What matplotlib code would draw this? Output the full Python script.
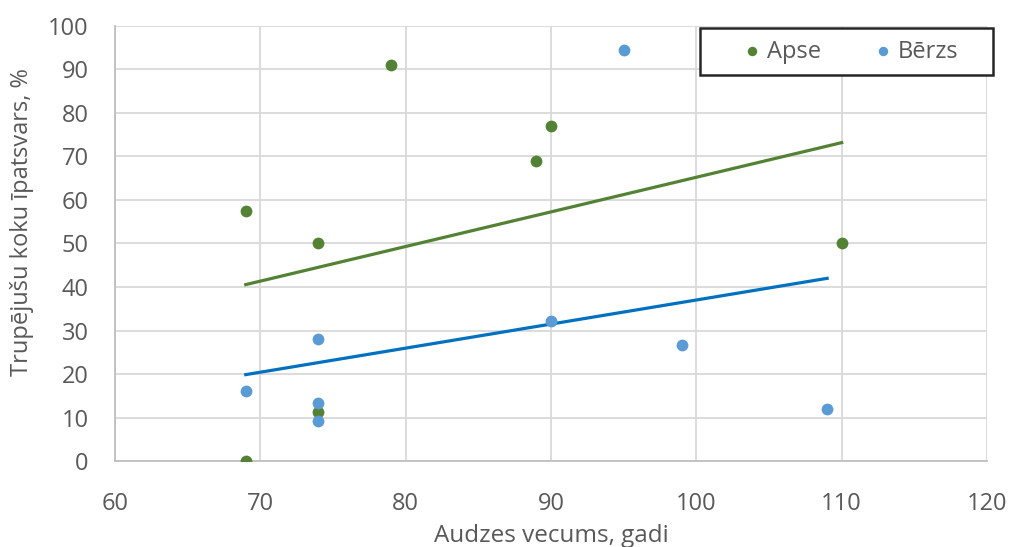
import numpy as np
import matplotlib.pyplot as plt
from matplotlib.patches import Rectangle

# Audzes vecums (gadi) un trupējušu koku īpatsvars (%)
apse_vecums = [69, 69, 74, 74, 79, 89, 90, 110]
apse_ipatsvars = [0, 57.4, 50, 11.2, 91, 69, 77, 50]

berzs_vecums = [69, 74, 74, 74, 90, 95, 99, 109]
berzs_ipatsvars = [16.1, 28, 13.3, 9.2, 32.2, 94.4, 26.7, 12]

x_ticks = [60, 70, 80, 90, 100, 110, 120]
y_ticks = [0, 10, 20, 30, 40, 50, 60, 70, 80, 90, 100]

zals = "#548235"
zils = "#5b9bd5"
zils_tr = "#0070c0"
peleks = "#595959"

plt.rcParams["font.family"] = ["Open Sans", "DejaVu Sans"]

fig = plt.figure(figsize=(10.12, 5.47), dpi=100)
ax = fig.add_axes([0.1136, 0.1572, 0.8617, 0.7953])

# Lineāras tendences (mazāko kvadrātu metode)
for xv, yv, c in [(apse_vecums, apse_ipatsvars, zals),
                  (berzs_vecums, berzs_ipatsvars, zils_tr)]:
    a, b = np.polyfit(xv, yv, 1)
    xl = np.array([min(xv), max(xv)])
    ax.plot(xl, a * xl + b, color=c, lw=2.3, zorder=2)

ax.scatter(apse_vecums, apse_ipatsvars, s=72, color=zals, label="Apse", zorder=3, linewidths=0)
ax.scatter(berzs_vecums, berzs_ipatsvars, s=72, color=zils, label="Bērzs", zorder=3, linewidths=0)

ax.set_xlim(60, 120)
ax.set_ylim(0, 100)
ax.set_xticks(x_ticks)
ax.set_yticks(y_ticks)
ax.grid(True, color="#d9d9d9", lw=1.3)
ax.set_axisbelow(True)
for s in ["top", "right"]:
    ax.spines[s].set_visible(False)
for s in ["left", "bottom"]:
    ax.spines[s].set_color("#bfbfbf")
    ax.spines[s].set_linewidth(1.3)
ax.tick_params(length=0, labelsize=17, labelcolor=peleks)
ax.tick_params(axis="x", pad=22)
ax.tick_params(axis="y", pad=19)

ax.set_xlabel("Audzes vecums, gadi", fontsize=17.5, color=peleks, labelpad=6)
ax.set_ylabel("Trupējušu koku īpatsvars, %", fontsize=17, color=peleks)
ax.yaxis.set_label_coords(-0.093, 0.55)

# Leģendas rāmis
ax.add_patch(Rectangle((0.671, 0.887), 0.336, 0.108, transform=ax.transAxes,
                       facecolor="white", edgecolor="#262626", lw=1.8,
                       clip_on=False, zorder=4))
leg = ax.legend(loc="center", bbox_to_anchor=(0.841, 0.941), ncol=2, fontsize=17,
                frameon=False, handletextpad=0.05, handlelength=1.2,
                columnspacing=2.0, markerscale=0.8, labelcolor=peleks)
leg.set_zorder(5)

fig.savefig("out.png", dpi=100)
